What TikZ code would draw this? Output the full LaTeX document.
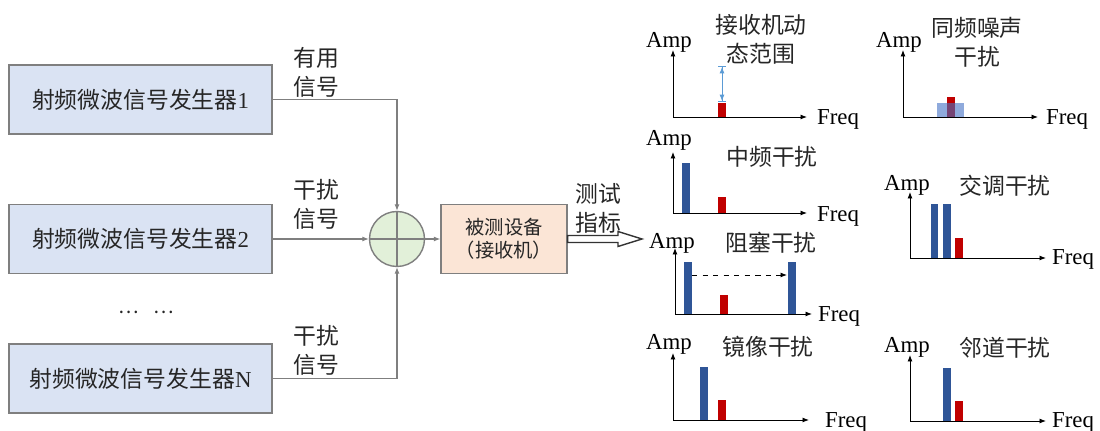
\documentclass[tikz,border=0pt]{standalone}
\usepackage{fontspec}
\setmainfont{Liberation Serif}
\newfontfamily\cjk{Noto Sans CJK SC}
\usetikzlibrary{arrows.meta,positioning,calc}
\definecolor{genfill}{HTML}{DAE3F3}
\definecolor{rxfill}{HTML}{FBE5D6}
\definecolor{sumfill}{HTML}{E2F0D9}
\definecolor{linegray}{HTML}{7F7F7F}
\definecolor{barblue}{HTML}{2F5597}
\definecolor{noiseblue}{HTML}{4472C4}
\definecolor{barred}{HTML}{C00000}
\definecolor{rangeblue}{HTML}{5B9BD5}
\tikzset{
>={Latex[width=1mm,length=1.3mm]},
	box1/.style={
		rectangle,
		sharp corners,
		fill=genfill,
		draw=linegray, thick,
		minimum width=5.26cm,
		minimum height=1.38cm,
		text=black!85},
	box2/.style={
		rectangle,
		sharp corners,
		fill=rxfill,
		draw=linegray, thick,
		minimum width=2.52cm,
		minimum height=1.38cm,
		align=center,
		text=black!85,
		font=\cjk\fontsize{11}{13}\selectfont},
	sum/.style={
		circle,
		fill=sumfill,
		draw=linegray, thick,
		minimum size=1.1cm,
		inner sep=0pt},
	lab/.style={
		align=center,
		text=black!85,
		font=\cjk\fontsize{13}{16.5}\selectfont},
	conn/.style={->, draw=linegray, line width=0.6pt},
	hollow/.style={draw=black!80, line width=0.8pt, fill=white, line join=miter},
	axis/.style={->, black, line width=0.5pt},
	bar1/.style={fill=barblue},
	bar2/.style={fill=barred},
	noise/.style={fill=noiseblue, opacity=0.6},
	dynrange/.style={{Bar[width=1.6mm]Latex[width=1mm,length=1.3mm]}-{Latex[width=1mm,length=1.3mm]Bar[width=1.6mm]}, draw=rangeblue, line width=0.5pt}
}

\begin{document}
\begin{tikzpicture}
[x=0.02cm, y=-0.02cm, font=\fontsize{13}{16.5}\selectfont]
\useasboundingbox (0,0) rectangle (1100,431);
% generators
\node[box1] (gen1) at (140.5,99.5) {{\cjk 射频微波信号发生器}1};
\node[box1] (gen2) at (140.5,239) {{\cjk 射频微波信号发生器}2};
\node[box1] (genN) at (140.5,378.5) {{\cjk 射频微波信号发生器}N};
\node[font=\cjk\fontsize{11}{13}\selectfont, text=black!85] (dots) at (146,312) {…\hspace{0.3cm}…};
\node[lab] (sig1) at (316,72) {有用\\信号};
\node[lab] (sig2) at (316,204) {干扰\\信号};
\node[lab] (sigN) at (316,350) {干扰\\信号};
% combiner and receiver
\node[sum] (sum) at (397,239) {};
\node[box2] (rx) at (504,239) {被测设备\\（接收机）};
\node[lab] (test) at (598,208) {测试\\指标};
\coordinate (tip) at (642,239);
\draw[conn] (gen1.east) -| (sum.north);
\draw[conn] (gen2.east) -- (sum.west);
\draw[conn] (genN.east) -| (sum.south);
\draw[draw=linegray, line width=0.6pt] (sum.north) -- (sum.south) (sum.west) -- (sum.east);
\draw[conn] (sum.east) -- (rx.west);
\draw[hollow] ($(rx.east)+(0,-3.5)$) -- ($(tip)+(-24,-3.5)$) -- ($(tip)+(-24,-7.5)$) -- (tip)
  -- ($(tip)+(-24,7.5)$) -- ($(tip)+(-24,3.5)$) -- ($(rx.east)+(0,3.5)$) -- cycle;
% dynamic range
\draw[axis] (673,117) -- (673,50);
\draw[axis] (673,117) -- (807,117);
\fill[bar2] (718,103) rectangle (726,117);
\draw[dynrange] (722,66) -- (722,102);
\node (amp1) at (669,42) {Amp};
\node (freq1) at (838,119) {Freq};
\node[lab] (t1) at (761,39) {接收机动\\态范围};
% co-channel noise
\draw[axis] (903,117) -- (903,50);
\draw[axis] (903,117) -- (1038,117);
\fill[bar2] (947,97) rectangle (955,117);
\fill[noise] (937,103) rectangle (964,117);
\node (amp2) at (899,42) {Amp};
\node (freq2) at (1067,119) {Freq};
\node[lab] (t2) at (977,42) {同频噪声\\干扰};
% IF
\draw[axis] (673,213) -- (673,152);
\draw[axis] (673,213) -- (807,213);
\fill[bar1] (682,163) rectangle (690,213);
\fill[bar2] (718,197) rectangle (726,213);
\node (amp3) at (669,140) {Amp};
\node (freq3) at (838,216) {Freq};
\node[lab] (t3) at (772,157) {中频干扰};
% intermodulation
\draw[axis] (910,258) -- (910,192);
\draw[axis] (910,258) -- (1046,258);
\fill[bar1] (931,204) rectangle (938,258);
\fill[bar1] (943,204) rectangle (951,258);
\fill[bar2] (955,238) rectangle (963,258);
\node (amp4) at (907,185) {Amp};
\node (freq4) at (1073,259) {Freq};
\node[lab] (t4) at (1005,186) {交调干扰};
% blocking
\draw[axis] (675,314) -- (675,248);
\draw[axis] (675,314) -- (812,314);
\fill[bar1] (684,262) rectangle (692,314);
\fill[bar1] (788,262) rectangle (796,314);
\fill[bar2] (720,295) rectangle (728,314);
\draw[->, dashed, line width=0.5pt] (692,275) -- (787,275);
\node (amp5) at (672,243) {Amp};
\node (freq5) at (839,316) {Freq};
\node[lab] (t5) at (771,243) {阻塞干扰};
% image
\draw[axis] (673,420) -- (673,353);
\draw[axis] (673,420) -- (809,420);
\fill[bar1] (700,367) rectangle (708,420);
\fill[bar2] (718,400) rectangle (726,420);
\node (amp6) at (669,344) {Amp};
\node (freq6) at (846,422) {Freq};
\node[lab] (t6) at (768,347) {镜像干扰};
% adjacent channel
\draw[axis] (910,421) -- (910,355);
\draw[axis] (910,421) -- (1046,421);
\fill[bar1] (943,368) rectangle (951,421);
\fill[bar2] (955,401) rectangle (963,421);
\node (amp7) at (907,347) {Amp};
\node (freq7) at (1073,422) {Freq};
\node[lab] (t7) at (1005,348) {邻道干扰};
\end{tikzpicture}
\end{document}
